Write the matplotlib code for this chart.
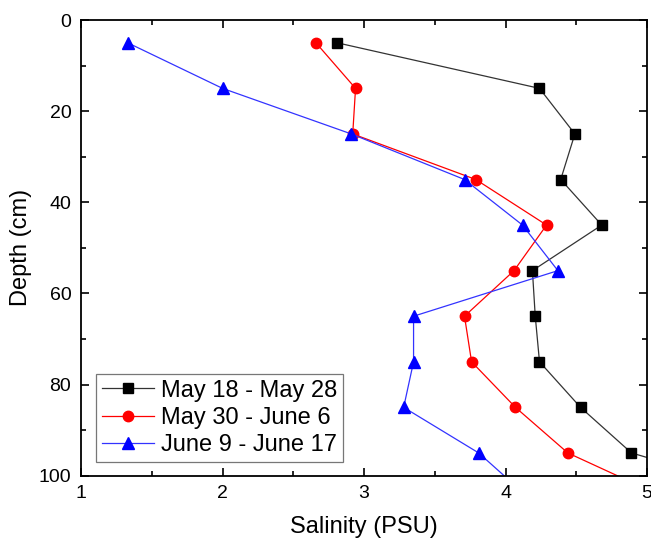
import matplotlib
matplotlib.use("Agg")
import matplotlib.pyplot as plt
from matplotlib.ticker import MultipleLocator

plt.rcParams['font.family'] = ['Liberation Sans', 'DejaVu Sans']

depth = [5, 15, 25, 35, 45, 55, 65, 75, 85, 95, 105]
sal_may18 = [2.81, 4.24, 4.49, 4.39, 4.68, 4.19, 4.21, 4.24, 4.53, 4.89, 5.99]
sal_may30 = [2.66, 2.94, 2.92, 3.79, 4.29, 4.06, 3.71, 3.76, 4.07, 4.44, 5.14]
sal_june9 = [1.33, 2.00, 2.91, 3.71, 4.12, 4.37, 3.35, 3.35, 3.28, 3.81, 4.17]
labels = ["May 18 - May 28", "May 30 - June 6", "June 9 - June 17"]

fig = plt.figure(figsize=(6.51, 5.41), dpi=100)
ax = fig.add_axes([0.1245, 0.1207, 0.8694, 0.8423])

ax.plot(sal_may18, depth, color='#333333', lw=0.9, marker='s', ms=6.5,
        mfc='black', mec='black', label=labels[0])
ax.plot(sal_may30, depth, color='red', lw=0.9, marker='o', ms=7.5,
        mfc='red', mec='red', label=labels[1])
ax.plot(sal_june9, depth, color='#3333ff', lw=0.9, marker='^', ms=8,
        mfc='blue', mec='blue', label=labels[2])

ax.set_xlim(1, 5)
ax.set_ylim(100, 0)
ax.xaxis.set_major_locator(MultipleLocator(1))
ax.xaxis.set_minor_locator(MultipleLocator(0.5))
ax.yaxis.set_major_locator(MultipleLocator(20))
ax.yaxis.set_minor_locator(MultipleLocator(10))
ax.tick_params(which='both', direction='in', top=True, right=True, width=1.2)
ax.tick_params(which='major', length=6, labelsize=14, pad=7)
ax.tick_params(which='minor', length=3.5)
for s in ax.spines.values():
    s.set_linewidth(1.3)

ax.set_xlabel("Salinity (PSU)", fontsize=17, labelpad=10)
ax.set_ylabel("Depth (cm)", fontsize=17, labelpad=5)

leg = ax.legend(loc='lower left', bbox_to_anchor=(0.026, 0.03), fontsize=17,
                frameon=True, fancybox=False, edgecolor='#555555',
                handlelength=2.2, borderpad=0.25, labelspacing=0.22,
                handletextpad=0.3, borderaxespad=0.0)
leg.get_frame().set_linewidth(0.9)

fig.savefig("out.png", dpi=100)
